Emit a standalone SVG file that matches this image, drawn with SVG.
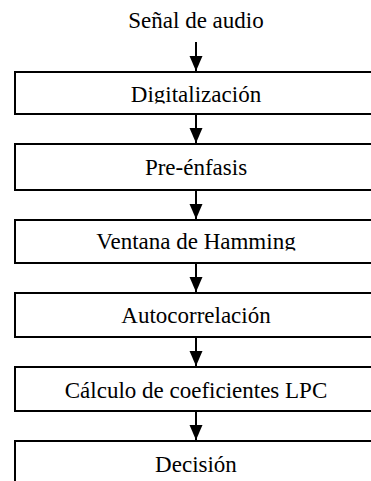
<svg xmlns="http://www.w3.org/2000/svg" width="371" height="481" viewBox="0 0 371 481">
<style>
.box{fill:#fff;stroke:#000;stroke-width:2}
.lbl{font-family:"Liberation Serif","Times New Roman",serif;font-size:23px;fill:#000;text-anchor:middle}
.conn{stroke:#000;stroke-width:2;fill:none}
</style>
<defs>
<marker id="ah" markerUnits="userSpaceOnUse" markerWidth="16" markerHeight="14" refX="15" refY="7" orient="auto" viewBox="0 0 16 14">
<polygon points="0,0.5 15,7 0,13.5" fill="#000"/>
</marker>
<clipPath id="c1"><rect x="0" y="72" width="371" height="31.5"/></clipPath>
<clipPath id="c3"><rect x="0" y="220" width="371" height="30.5"/></clipPath>
</defs>
<rect width="371" height="481" fill="#fff"/>
<g id="n0"><text class="lbl" x="196" y="28">Señal de audio</text></g>
<g id="n1"><rect class="box" x="15" y="72" width="370" height="42"/><text class="lbl" x="196" y="102" clip-path="url(#c1)">Digitalización</text></g>
<g id="n2"><rect class="box" x="15" y="144" width="370" height="46"/><text class="lbl" x="196" y="175">Pre-énfasis</text></g>
<g id="n3"><rect class="box" x="15" y="220" width="370" height="43"/><text class="lbl" x="196" y="249" clip-path="url(#c3)">Ventana de Hamming</text></g>
<g id="n4"><rect class="box" x="15" y="293" width="370" height="44"/><text class="lbl" x="196" y="323">Autocorrelación</text></g>
<g id="n5"><rect class="box" x="15" y="367" width="370" height="44"/><text class="lbl" x="196" y="398">Cálculo de coeficientes LPC</text></g>
<g id="n6"><rect class="box" x="15" y="441" width="370" height="60"/><text class="lbl" x="196" y="472">Decisión</text></g>
<g id="connectors">
<line class="conn" x1="196" y1="42" x2="196" y2="71" marker-end="url(#ah)"/>
<line class="conn" x1="196" y1="114" x2="196" y2="143" marker-end="url(#ah)"/>
<line class="conn" x1="196" y1="190" x2="196" y2="219" marker-end="url(#ah)"/>
<line class="conn" x1="196" y1="263" x2="196" y2="292" marker-end="url(#ah)"/>
<line class="conn" x1="196" y1="337" x2="196" y2="366" marker-end="url(#ah)"/>
<line class="conn" x1="196" y1="411" x2="196" y2="440" marker-end="url(#ah)"/>
</g>
</svg>
